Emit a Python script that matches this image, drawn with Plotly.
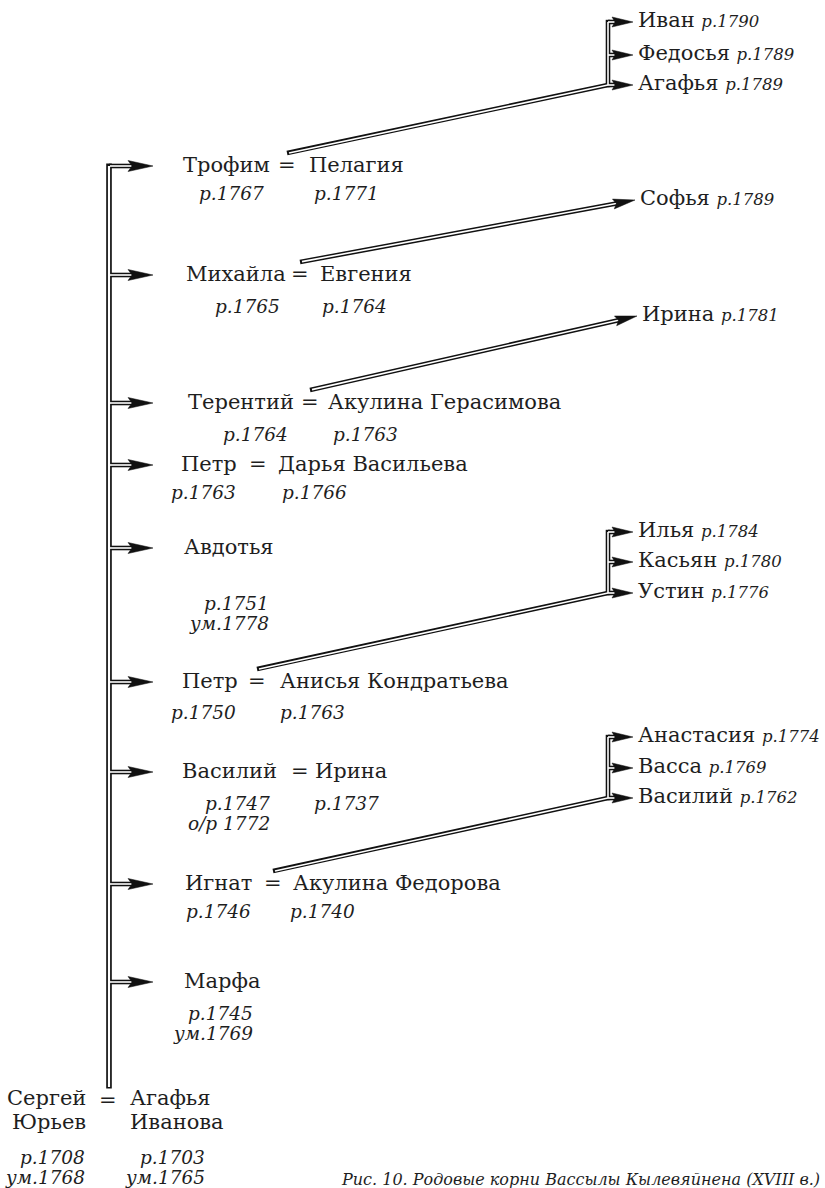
import plotly.graph_objects as go

# ---------------- data ----------------
root_husband = ["Сергей", "Юрьев"]
root_husband_years = ["р.1708", "ум.1768"]
root_wife = ["Агафья", "Иванова"]
root_wife_years = ["р.1703", "ум.1765"]

children = ["Трофим", "Михайла", "Терентий", "Петр", "Авдотья", "Петр", "Василий", "Игнат", "Марфа"]
children_years = [["р.1767"], ["р.1765"], ["р.1764"], ["р.1763"], ["р.1751", "ум.1778"],
                  ["р.1750"], ["р.1747", "о/р 1772"], ["р.1746"], ["р.1745", "ум.1769"]]
spouses = ["Пелагия", "Евгения", "Акулина Герасимова", "Дарья Васильева", "",
           "Анисья Кондратьева", "Ирина", "Акулина Федорова", ""]
spouses_years = ["р.1771", "р.1764", "р.1763", "р.1766", "", "р.1763", "р.1737", "р.1740", ""]

grandchild_parent = [0, 1, 2, 5, 7]
grandchildren = [["Иван", "Федосья", "Агафья"], ["Софья"], ["Ирина"],
                 ["Илья", "Касьян", "Устин"], ["Анастасия", "Васса", "Василий"]]
grandchildren_years = [["р.1790", "р.1789", "р.1789"], ["р.1789"], ["р.1781"],
                       ["р.1784", "р.1780", "р.1776"], ["р.1774", "р.1769", "р.1762"]]

caption = "Рис. 10. Родовые корни Вассылы Кылевяйнена (XVIII в.)"

# ---------------- layout (pixel positions / styles) ----------------
W, H = 825, 1188
FONT = "DejaVu Serif"
TXT = "#1e1e1e"
NAME_SIZE = 21
YEAR_SIZE = 18.5
GC_YEAR_SIZE = 16.5

trunk_x = 109
trunk_bottom = 1087
branch_tip = 153
row_y = [166, 275, 403, 465, 548, 682, 772, 884, 982]
name_x = [181, 184, 186, 179, 182, 180, 180, 183, 182]
eq_x = [287, 300, 310, 258, None, 257, 300, 273, None]
spouse_x = [307, 318, 326, 276, None, 278, 313, 291, None]
cyear_right = [266, 282, 290, 238, 271, 238, 272, 253, 255]
cyear_dy = [27, 31, 31, 27, 55, 30, 31, 27, 31]
syear_left = [312, 320, 331, 280, None, 278, 312, 288, None]

bar_x = 608
gc_tip_x = [633, 635, 637, 633, 633]
gc_arrow_y = [[22, 55, 85], [200], [316], [532, 562, 593], [737, 768, 798]]

lines_thick = {"x": [], "y": []}
lines_trunk = {"x": [], "y": []}
white_thick = {"x": [], "y": []}
white_trunk = {"x": [], "y": []}
heads = {"x": [], "y": []}


def add(d, pts):
    for p in pts:
        d["x"].append(p[0])
        d["y"].append(p[1])
    d["x"].append(None)
    d["y"].append(None)


def arrowhead(tip, start, L, Wd, notch):
    dx, dy = tip[0] - start[0], tip[1] - start[1]
    n = (dx * dx + dy * dy) ** 0.5
    ux, uy = dx / n, dy / n
    px, py = -uy, ux
    bx, by = tip[0] - L * ux, tip[1] - L * uy
    add(heads, [tip, (bx + Wd * px, by + Wd * py),
                (tip[0] - (L - notch) * ux, tip[1] - (L - notch) * uy),
                (bx - Wd * px, by - Wd * py), tip])
    return (tip[0] - (L - notch) * ux, tip[1] - (L - notch) * uy)


# trunk
add(lines_trunk, [(trunk_x, row_y[0] - 2.4), (trunk_x, trunk_bottom + 1.5)])
add(white_trunk, [(trunk_x, row_y[0]), (trunk_x, trunk_bottom)])

# branches to children
for y in row_y:
    back = arrowhead((branch_tip, y), (trunk_x, y), 25, 5.5, 4)
    add(lines_thick, [(trunk_x, y), back])
    add(white_thick, [(trunk_x + 1, y), back])

# grandchildren
for g, parent in enumerate(grandchild_parent):
    ys = gc_arrow_y[g]
    tip_x = gc_tip_x[g]
    start = (eq_x[parent], row_y[parent] - 13)
    if len(ys) > 1:
        add(lines_thick, [start, (bar_x, ys[-1])])
        add(white_thick, [(start[0] + 2, start[1]), (bar_x, ys[-1])])
        add(lines_thick, [(bar_x, ys[0] - 2.2), (bar_x, ys[-1] + 2.2)])
        add(white_thick, [(bar_x, ys[0]), (bar_x, ys[-1])])
        for y in ys:
            back = arrowhead((tip_x, y), (bar_x, y), 21, 5, 3)
            add(lines_thick, [(bar_x, y), back])
            add(white_thick, [(bar_x, y), back])
    else:
        tip = (tip_x, ys[0])
        back = arrowhead(tip, start, 22, 5, 3)
        add(lines_thick, [start, back])
        add(white_thick, [(start[0] + 2, start[1] - 0.4), back])

fig = go.Figure()
fig.add_trace(go.Scatter(x=lines_trunk["x"], y=lines_trunk["y"], mode="lines",
                         line=dict(color="#111", width=5.6), hoverinfo="skip"))
fig.add_trace(go.Scatter(x=lines_thick["x"], y=lines_thick["y"], mode="lines",
                         line=dict(color="#111", width=4.6), hoverinfo="skip"))
fig.add_trace(go.Scatter(x=white_trunk["x"], y=white_trunk["y"], mode="lines",
                         line=dict(color="white", width=2.2), hoverinfo="skip"))
fig.add_trace(go.Scatter(x=white_thick["x"], y=white_thick["y"], mode="lines",
                         line=dict(color="white", width=1.6), hoverinfo="skip"))
fig.add_trace(go.Scatter(x=heads["x"], y=heads["y"], mode="lines", fill="toself",
                         fillcolor="#111", line=dict(color="#111", width=0.5),
                         hoverinfo="skip"))

ann = []


def text(x, y, s, anchor="left", size=NAME_SIZE, italic=False):
    if italic:
        s = "<i>" + s + "</i>"
    ann.append(dict(x=x, y=y, text=s, xref="x", yref="y", showarrow=False,
                    xanchor=anchor, yanchor="middle",
                    font=dict(family=FONT, size=size, color=TXT)))


for i, name in enumerate(children):
    ty = row_y[i] - 1
    text(name_x[i], ty, name)
    for k, yr in enumerate(children_years[i]):
        text(cyear_right[i], row_y[i] + cyear_dy[i] + 20 * k, yr, "right", YEAR_SIZE, True)
    if spouses[i]:
        text(eq_x[i], ty, "=", "center")
        text(spouse_x[i], ty, spouses[i])
        text(syear_left[i], row_y[i] + cyear_dy[i], spouses_years[i], "left", YEAR_SIZE, True)

for g in range(len(grandchildren)):
    for k, nm in enumerate(grandchildren[g]):
        y = gc_arrow_y[g][k] - 2
        s = nm + " <span style='font-size:%spx'><i>%s</i></span>" % (GC_YEAR_SIZE, grandchildren_years[g][k])
        text(gc_tip_x[g] + 3, y, s)

# root couple
for k in range(2):
    text(88, 1098 + 24 * k, root_husband[k], "right")
    text(128, 1098 + 24 * k, root_wife[k], "left")
    text(87, 1157 + 20 * k, root_husband_years[k], "right", YEAR_SIZE, True)
    text(207, 1157 + 20 * k, root_wife_years[k], "right", YEAR_SIZE, True)
text(108, 1100, "=", "center")

text(822, 1179, caption, "right", 16, True)

fig.update_layout(
    width=W, height=H, margin=dict(l=0, r=0, t=0, b=0),
    paper_bgcolor="white", plot_bgcolor="white", showlegend=False,
    xaxis=dict(range=[0, W], visible=False, fixedrange=True),
    yaxis=dict(range=[H, 0], visible=False, fixedrange=True),
    annotations=ann,
)
fig.write_html("out.html", config={"displayModeBar": False},
               post_script="document.body.style.margin='0';document.body.style.overflow='hidden';")
